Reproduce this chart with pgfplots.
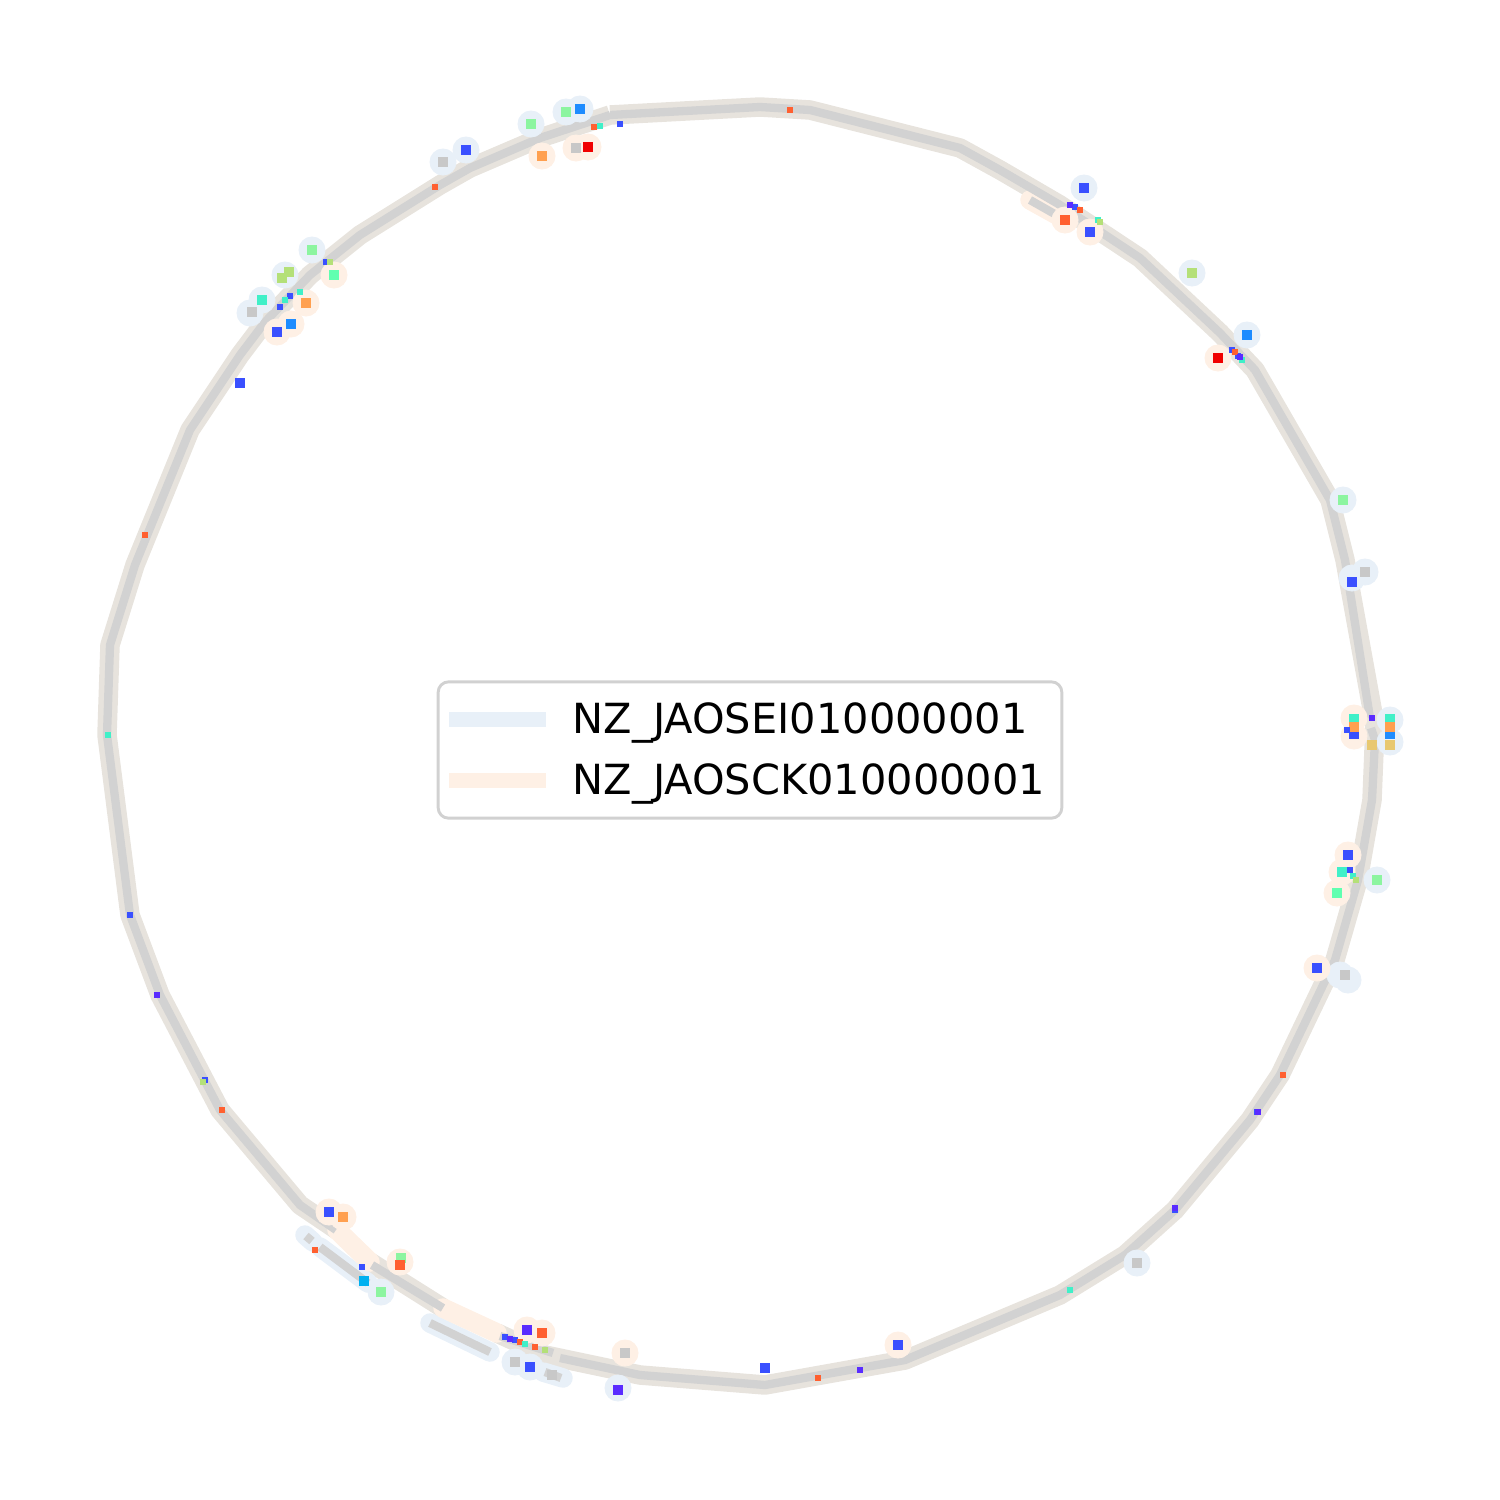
\documentclass[border=0pt]{standalone}
\usepackage{pgfplots}
\pgfplotsset{compat=1.18}
\usepackage{fontspec}
\setmainfont{DejaVu Sans}
\definecolor{hblue}{RGB}{232,240,248}
\definecolor{horange}{RGB}{254,240,229}
\definecolor{ring}{RGB}{231,227,221}
\definecolor{core}{RGB}{210,210,210}
\definecolor{mgray}{RGB}{200,200,200}
\definecolor{mblue}{RGB}{58,80,255}
\definecolor{dblue}{RGB}{30,140,255}
\definecolor{violet}{RGB}{90,44,255}
\definecolor{lgreen}{RGB}{140,245,160}
\definecolor{mint}{RGB}{96,255,176}
\definecolor{teal}{RGB}{64,240,200}
\definecolor{ygreen}{RGB}{180,224,120}
\definecolor{orangeM}{RGB}{255,160,80}
\definecolor{redor}{RGB}{255,96,48}
\definecolor{redM}{RGB}{240,0,0}
\definecolor{deepsky}{RGB}{0,176,240}
\definecolor{yel}{RGB}{232,200,112}
\begin{document}
\begin{tikzpicture}
\begin{axis}[scale only axis, width=722.7pt, height=722.7pt,
  xmin=0, xmax=1500, ymin=0, ymax=1500, y dir=reverse, hide axis, clip=false,
  unbounded coords=jump,
  legend cell align=left,
  legend style={at={(0.5,0.5)}, anchor=center, draw=black!18, line width=1.4pt,
    rounded corners=5pt, font=\fontsize{20}{24}\selectfont, row sep=9pt,
    inner xsep=6pt, inner ysep=8pt},
  legend image code/.code={\draw[#1, line width=7pt, line cap=butt, overlay] (-5.3pt,0pt) -- (41.4pt,0pt);
    \path (0pt,0pt) (47.5pt,0pt);},
]
\addplot[draw=none, forget plot] coordinates {(0,0) (1500,1500)};
% main ring
\addplot[ring, line width=9.4pt, line join=round, forget plot] coordinates {
(610,115) (760,107) (810,110) (960,148) (1000,170) (1060,205) (1140,258) (1220,333) (1255,370)
(1330,500) (1345,560) (1375,725) (1372,800) (1358,880) (1335,960) (1280,1075) (1250,1120)
(1175,1210) (1125,1255) (1060,1295) (905,1360) (765,1385) (640,1375) (545,1355) (497,1333)
(nan,nan) (443,1308) (370,1262) (nan,nan) (337,1230) (300,1205) (220,1110) (160,995) (130,915) (107,735)
(110,645) (135,565) (190,430) (240,355) (265,322) (310,275) (360,235) (440,185) (470,168) (540,138) (610,115)};
% blue-only segments
\addplot[hblue, line width=9.4pt, line cap=round] coordinates {
(305,1235) (313,1242) (nan,nan) (320,1247) (368,1283) (nan,nan) (430,1323) (490,1352) (nan,nan)
(543,1372) (563,1378) (nan,nan) (512,1361) (518,1363)};
\addlegendentry{NZ\_JAOSEI010000001}
% orange-only segments
\addplot[horange, line width=9.4pt, line cap=round] coordinates {
(337,1230) (370,1262) (nan,nan) (443,1308) (497,1333) (nan,nan) (1030,200) (1066,220)};
\addlegendentry{NZ\_JAOSCK010000001}
% gray cores
\addplot[core, line width=4pt, line join=round, forget plot] coordinates {
(610,115) (760,107) (810,110) (960,148) (1000,170) (1060,205) (1140,258) (1220,333) (1255,370)
(1330,500) (1345,560) (1370,718) (nan,nan) (1371,728) (1375,740) (1372,800) (1358,880) (1335,960) (1280,1075) (1250,1120)
(1175,1210) (1125,1255) (1060,1295) (905,1360) (765,1385) (640,1375) (560,1358) (nan,nan) (553,1353) (500,1336)
(nan,nan) (443,1308) (372,1265) (nan,nan) (336,1230) (300,1205) (220,1110) (160,995) (130,915) (107,735)
(110,645) (135,565) (190,430) (240,355) (265,322) (310,275) (360,235) (440,185) (470,168) (540,138) (610,115)};
\addplot[core, line width=4pt, forget plot] coordinates {
(306,1236) (312,1241) (nan,nan) (320,1247) (368,1283) (nan,nan) (430,1323) (490,1352) (nan,nan)
(545,1372) (561,1378) (nan,nan) (1030,200) (1060,217)};
% halos
\addplot[only marks, mark=*, mark size=6.3pt, color=hblue, forget plot] coordinates {
(443,162) (466,150) (531,124) (566,112) (580,109) (312,250) (285,275) (262,300) (250,313)
(1084,188) (1192,273) (1247,335) (1343,500) (1352,578) (1365,572) (1390,720) (1390,742)
(1377,880) (1340,975) (1348,980) (1137,1263) (618,1388) (530,1367) (515,1362) (381,1292)};
\addplot[only marks, mark=*, mark size=6.3pt, color=horange, forget plot] coordinates {
(542,156) (576,148) (588,147) (334,275) (306,303) (291,324) (277,332) (1065,220) (1090,232)
(1218,358) (1354,718) (1354,736) (1348,855) (1342,872) (1337,893) (1317,968) (898,1345)
(625,1353) (527,1330) (542,1333) (400,1262) (329,1212) (343,1217)};
% markers
\newcommand{\mk}[2]{\addplot[only marks, mark=square*, mark size=2.3pt, color=#1, forget plot] coordinates {#2};}
\mk{mgray}{(443,162) (576,148) (252,312) (1365,572) (625,1353) (515,1362) (1137,1263) (1345,975) (552,1375)}
\mk{mblue}{(466,150) (277,332) (1084,188) (1090,232) (1352,582) (1348,855) (1317,968) (898,1345) (765,1368) (530,1367) (329,1212) (240,383) (1354,734)}
\mk{dblue}{(580,109) (291,324) (1247,335) (1390,734)}
\mk{violet}{(527,1330) (618,1390)}
\mk{lgreen}{(531,124) (566,112) (312,250) (1343,500) (1377,880) (381,1292) (401,1258)}
\mk{mint}{(334,275) (1337,893)}
\mk{teal}{(262,300) (1342,872) (1354,719) (1390,719)}
\mk{ygreen}{(282,278) (289,272) (1192,273)}
\mk{orangeM}{(542,156) (306,303) (343,1217) (1354,727) (1390,727)}
\mk{redor}{(1065,220) (542,1333) (400,1265)}
\mk{redM}{(588,147) (1218,358)}
\mk{deepsky}{(364,1281)}
\mk{yel}{(1390,745) (1372,745)}
% small gene stripes along the ring
\newcommand{\st}[2]{\addplot[only marks, mark=square*, mark size=1.2pt, color=#1, forget plot] coordinates {#2};}
\st{mblue}{(280,307) (290,296) (326,262) (1075,207) (1232,350) (1238,356) (505,1337) (515,1340) (130,915) (205,1080) (1350,870) (1257,1112) (1175,1210) (620,124) (362,1267) (1347,730)}
\st{redor}{(594,127) (1080,210) (1235,352) (520,1342) (535,1347) (145,535) (222,1110) (1283,1075) (790,110) (315,1250) (435,187) (818,1378)}
\st{teal}{(285,300) (1098,220) (1242,360) (525,1344) (108,735) (1353,876) (1070,1290) (600,126) (300,292)}
\st{violet}{(1070,205) (1240,357) (510,1339) (1258,1112) (1175,1208) (157,995) (860,1370) (1372,718)}
\st{ygreen}{(330,262) (1100,222) (545,1350) (203,1082) (1356,880)}
\end{axis}
\end{tikzpicture}
\end{document}
